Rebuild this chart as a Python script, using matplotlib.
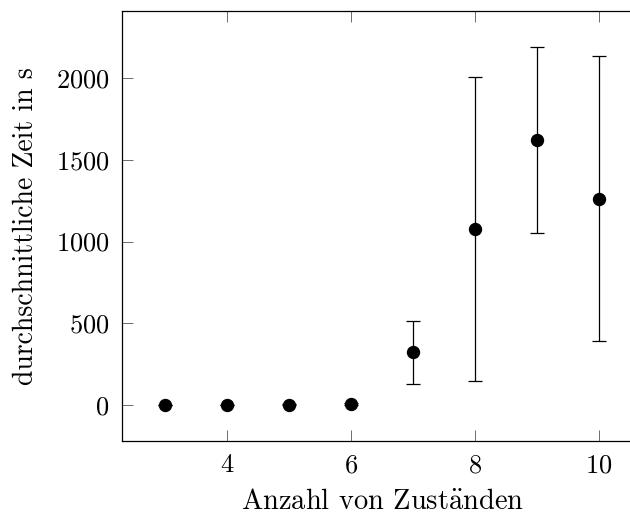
import numpy as np
import matplotlib.pyplot as plt

plt.rcParams['font.family'] = ['cmr10', 'DejaVu Serif']
plt.rcParams['mathtext.fontset'] = 'cm'
plt.rcParams['axes.formatter.use_mathtext'] = True

# mean runtime and standard deviation per number of states
states = [3, 4, 5, 6, 7, 8, 9, 10]
mean_time = [1, 1, 2, 8, 322, 1078, 1621, 1262]
std_time = [0.5, 0.8, 1.5, 5, 193, 931, 570, 870]

fig = plt.figure(figsize=(6.3, 5.16), dpi=100)
ax = fig.add_axes([0.1937, 0.1453, 0.8253, 0.8334])

ax.errorbar(states, mean_time, yerr=std_time, fmt='o', color='black',
            markersize=8.6, elinewidth=0.9, capsize=5, capthick=0.9)

ax.set_xlim(2.3, 10.7)
ax.set_ylim(-220, 2410)
ax.set_xticks([4, 6, 8, 10])
ax.set_yticks([0, 500, 1000, 1500, 2000])

ax.tick_params(direction='in', length=8, width=0.6, top=True, right=True,
               labelsize=19, pad=9, color='#555555')
for s in ax.spines.values():
    s.set_linewidth(0.9)

ax.set_xlabel(r'Anzahl von Zust$\ddot{\mathrm{a}}$nden', fontsize=20.5, labelpad=8)
ax.set_ylabel('durchschnittliche Zeit in s', fontsize=20, labelpad=12)

fig.savefig('out.png', dpi=100)
